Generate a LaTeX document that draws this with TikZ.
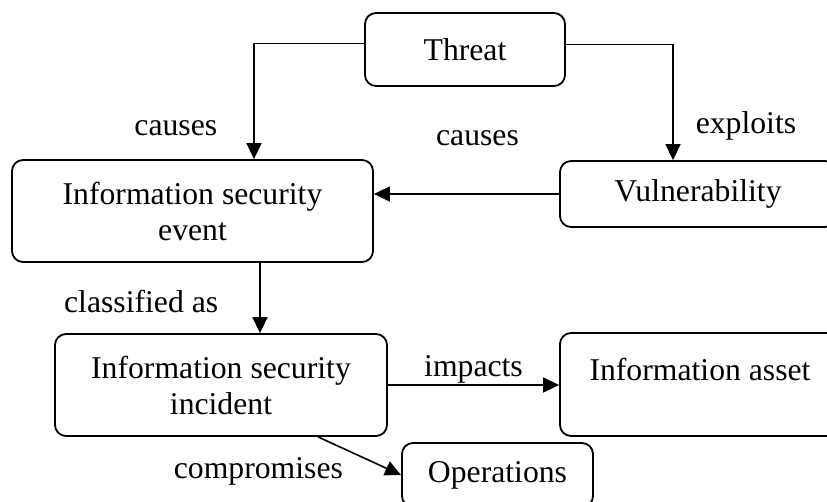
\documentclass[tikz,border=0pt]{standalone}
\usepackage{fontspec}
\setmainfont{Liberation Serif}
\usetikzlibrary{arrows.meta}

\begin{document}
\begin{tikzpicture}[x=1pt, y=-1pt, font=\fontsize{31.7}{36}\selectfont,
		box/.style={draw, rounded corners=11pt, line width=1.8pt, align=center, inner sep=0pt},
		arr/.style={-{Triangle[length=16pt,width=15pt]}, line width=1.6pt},
		lbl/.style={inner sep=0pt}]
			\useasboundingbox (0,0) rectangle (827,501);
			\clip (0,0) rectangle (827,501);
			
			\node[box, minimum width=200pt, minimum height=73pt] (threat) at (465,49.5) {Threat};
			\node[box, minimum width=276pt, minimum height=66pt] (vuln) at (698,194) {Vulnerability};
			\node[box, minimum width=361pt, minimum height=102pt] (event) at (192.5,211) {Information security\\event};
			\node[box, minimum width=332pt, minimum height=102pt] (incident) at (221,385) {Information security\\incident};
			\node[box, minimum width=280pt, minimum height=103pt, text depth=30pt] (asset) at (700,384.5) {Information asset};
			\node[box, minimum width=191pt, minimum height=64pt] (ops) at (497.5,475) {Operations};
			
			\draw[arr] ([yshift=6pt]threat.west) -| node[lbl, pos=0.865, left=36pt] {causes} ([xshift=61.5pt]event.north);
			\draw[arr] ([yshift=5pt]threat.east) -| node[lbl, pos=0.85, right=22pt] {exploits} ([xshift=-25pt]vuln.north);
			\draw[arr] (vuln.west) -- node[lbl, above=47pt, xshift=11pt] {causes} (event.east |- vuln.west);
			\draw[arr] ([xshift=67.5pt]event.south) -- node[lbl, pos=0.55, left=41pt] {classified as} ([xshift=39pt]incident.north);
			\draw[arr] (incident.east) -- node[lbl, above=1pt] {impacts} (asset.west |- incident.east);
			\draw[arr] ([xshift=97pt]incident.south) -- node[lbl, pos=0.55, left=20pt, yshift=-14pt] {compromises} (ops.west);
		\end{tikzpicture}
\end{document}
